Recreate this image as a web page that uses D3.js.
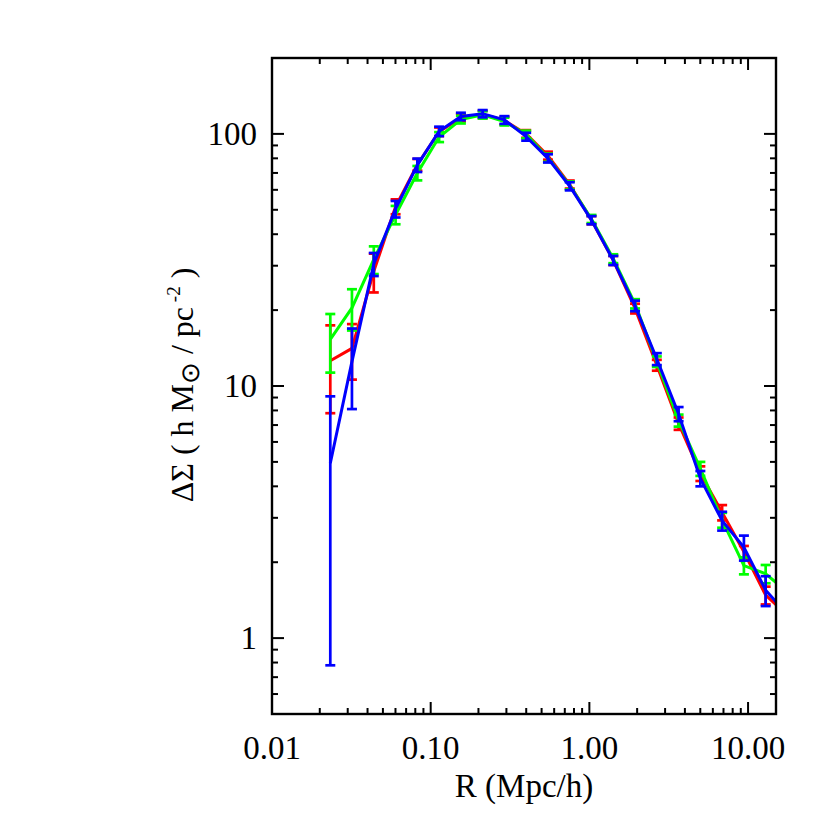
<!DOCTYPE html>
<html>
<head>
<meta charset="utf-8">
<script src="https://cdn.jsdelivr.net/npm/d3@7"></script>
<style>
  body { margin: 0; background: #fff; }
  text { font-family: "Liberation Serif", "Times New Roman", serif; }
</style>
</head>
<body>
<svg width="830" height="830"></svg>
<script>
// radius bins (Mpc/h)
var R = [0.0233, 0.0319, 0.0438, 0.0601, 0.0824, 0.113, 0.155, 0.2126, 0.2915, 0.3998, 0.5483,
         0.7521, 1.031, 1.415, 1.940, 2.661, 3.650, 5.005, 6.865, 9.415, 12.91, 17.71];

var redVal = [12.6, 14.1, 28.5, 51.5, 75.5, 102, 116, 119.5, 113, 100, 82,
              63, 45.5, 31.5, 20.3, 12.1, 7.1, 4.5, 3.15, 2.2, 1.48, 1.23];
var redErr = [4.8, 3.5, 5.0, 3.5, 4, 4, 4, 4, 4, 3.5, 3,
              2.3, 1.7, 1.3, 0.9, 0.6, 0.4, 0.3, 0.22, 0.12, 0.12, 0.1];

var greenVal = [15.3, 20.4, 31.8, 47.8, 70, 97.2, 114, 119, 112, 99.5, 80.5,
                62.5, 46, 32, 21.2, 12.5, 7.3, 4.7, 2.94, 1.94, 1.8, 1.52];
var greenErr = [4.0, 3.8, 4.0, 4.0, 4.6, 4.4, 4, 4, 4, 3.5, 3,
                2.3, 1.7, 1.3, 0.9, 0.6, 0.4, 0.3, 0.2, 0.15, 0.15, 0.1];

var blueVal = [4.94, 12.5, 30.5, 50.4, 75.2, 102.4, 117.3, 120.3, 113.6, 97.5, 80,
               62, 45.5, 31.5, 20.8, 12.8, 7.75, 4.3, 2.92, 2.29, 1.55, 1.24];
var blueErr = [4.16, 4.4, 3.2, 3.8, 4.6, 4.4, 4, 4, 4, 3.5, 3,
               2.3, 1.7, 1.3, 1.0, 0.7, 0.5, 0.3, 0.25, 0.26, 0.21, 0.15];

var xTicks = [0.01, 0.1, 1, 10];
var xTickLabels = ["0.01", "0.10", "1.00", "10.00"];
var yTicks = [1, 10, 100];
var yTickLabels = ["1", "10", "100"];

var svg = d3.select("svg");
var pLeft = 272, pRight = 776, pTop = 58, pBottom = 714;

var x = d3.scaleLog().domain([0.01, 15]).range([pLeft, pRight]);
var y = d3.scaleLog().domain([0.5, 200]).range([pBottom, pTop]);

// minor ticks: 2..9 times each decade inside the domain
function minors(scale) {
  var d = scale.domain(), out = [];
  for (var e = -3; e <= 3; e++) {
    for (var m = 1; m < 10; m++) {
      var v = m * Math.pow(10, e);
      if (v >= d[0] * 0.9999 && v <= d[1] * 1.0001) out.push(v);
    }
  }
  return out;
}
var xMinor = minors(x).filter(function(v) { return xTicks.indexOf(v) < 0; });
var yMinor = minors(y).filter(function(v) { return yTicks.indexOf(v) < 0; });

svg.append("defs").append("clipPath").attr("id", "plot")
  .append("rect").attr("x", pLeft).attr("y", pTop)
  .attr("width", pRight - pLeft).attr("height", pBottom - pTop);

var series = [
  { val: redVal, err: redErr, color: "#ff0000" },
  { val: greenVal, err: greenErr, color: "#00ff00" },
  { val: blueVal, err: blueErr, color: "#0000ff" }
];

var line = d3.line()
  .x(function(d) { return x(d.r); })
  .y(function(d) { return y(d.v); });

var plot = svg.append("g").attr("clip-path", "url(#plot)");

series.forEach(function(s) {
  var pts = R.map(function(r, i) { return { r: r, v: s.val[i], e: s.err[i] }; });
  var g = plot.append("g");
  g.append("path")
      .datum(pts)
      .attr("d", line)
      .attr("fill", "none")
      .attr("stroke", s.color)
      .attr("stroke-width", 3);

  var eb = g.selectAll(".eb")
      .data(pts)
      .enter().append("g");
  eb.append("line")
      .attr("x1", function(d) { return x(d.r); })
      .attr("x2", function(d) { return x(d.r); })
      .attr("y1", function(d) { return y(d.v + d.e); })
      .attr("y2", function(d) { return y(Math.max(d.v - d.e, 0.01)); })
      .attr("stroke", s.color).attr("stroke-width", 2.7);
  [1, -1].forEach(function(sign) {
    eb.append("line")
        .attr("x1", function(d) { return x(d.r) - 5; })
        .attr("x2", function(d) { return x(d.r) + 5; })
        .attr("y1", function(d) { return y(d.v + sign * d.e); })
        .attr("y2", function(d) { return y(d.v + sign * d.e); })
        .attr("stroke", s.color).attr("stroke-width", 2.7);
  });
});

// frame and inward ticks on all four sides
var axes = svg.append("g").attr("stroke", "#000").attr("stroke-width", 2);
axes.append("rect")
    .attr("x", pLeft).attr("y", pTop)
    .attr("width", pRight - pLeft).attr("height", pBottom - pTop)
    .attr("fill", "none").attr("stroke-width", 2.4);

function xt(vals, len) {
  axes.selectAll(null).data(vals).enter().append("line")
      .attr("x1", function(d) { return x(d); }).attr("x2", function(d) { return x(d); })
      .attr("y1", pBottom).attr("y2", pBottom - len);
  axes.selectAll(null).data(vals).enter().append("line")
      .attr("x1", function(d) { return x(d); }).attr("x2", function(d) { return x(d); })
      .attr("y1", pTop).attr("y2", pTop + len);
}
function yt(vals, len) {
  axes.selectAll(null).data(vals).enter().append("line")
      .attr("y1", function(d) { return y(d); }).attr("y2", function(d) { return y(d); })
      .attr("x1", pLeft).attr("x2", pLeft + len);
  axes.selectAll(null).data(vals).enter().append("line")
      .attr("y1", function(d) { return y(d); }).attr("y2", function(d) { return y(d); })
      .attr("x1", pRight).attr("x2", pRight - len);
}
xt(xTicks, 12); xt(xMinor, 6);
yt(yTicks, 12); yt(yMinor, 6);

svg.selectAll(".xl")
  .data(xTicks)
  .enter().append("text")
    .attr("x", function(d) { return x(d); })
    .attr("y", 759)
    .attr("text-anchor", "middle")
    .attr("font-size", 33)
    .text(function(d, i) { return xTickLabels[i]; });

svg.selectAll(".yl")
  .data(yTicks)
  .enter().append("text")
    .attr("x", 257)
    .attr("y", function(d) { return y(d) + 11; })
    .attr("text-anchor", "end")
    .attr("font-size", 33)
    .text(function(d, i) { return yTickLabels[i]; });

svg.append("text")
    .attr("x", (pLeft + pRight) / 2)
    .attr("y", 797)
    .attr("text-anchor", "middle")
    .attr("font-size", 33)
    .text("R (Mpc/h)");

var ylab = svg.append("text")
    .attr("transform", "translate(193,385) rotate(-90)")
    .attr("text-anchor", "middle")
    .attr("font-size", 32);
ylab.append("tspan").text("ΔΣ ( h M");
ylab.append("tspan").attr("font-size", 26).attr("dy", 6).text("⊙");
ylab.append("tspan").attr("dy", -6).text("  /  pc");
ylab.append("tspan").attr("font-size", 19).attr("dy", -13).text(" -2");
ylab.append("tspan").attr("dy", 13).text(" )");
</script>
</body>
</html>
